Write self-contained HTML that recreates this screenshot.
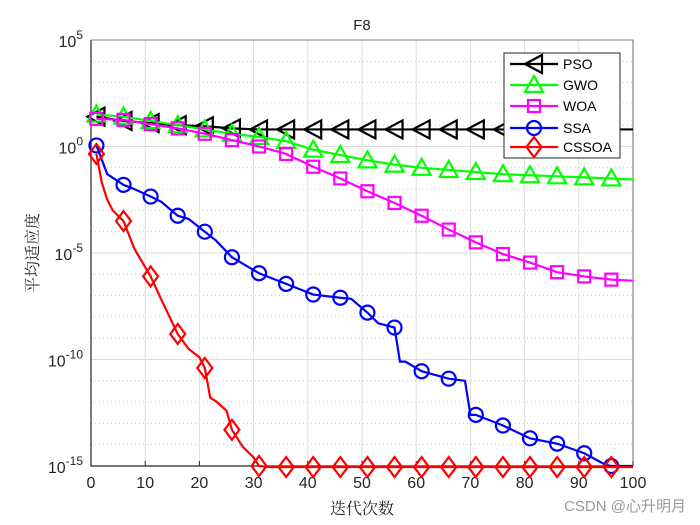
<!DOCTYPE html>
<html><head><meta charset="utf-8"><style>
body{margin:0;background:#fff}
svg{display:block;font-family:"Liberation Sans","Noto Sans CJK SC",sans-serif}
</style></head><body>
<svg id="c" width="700" height="525">
</svg>
<script>
const iters={
PSO:[1,6,11,16,21,26,31,36,41,46,51,56,61,66,71,76,81,86,91,96,100],
GWO:[1,6,11,16,21,26,31,36,41,46,51,56,61,66,71,76,81,86,91,96,100],
WOA:[1,6,11,16,21,26,31,36,41,46,51,56,61,66,71,76,81,86,91,96,100],
SSA:[1,3,6,8,11,13,16,18,21,23,26,28,31,36,41,46,48,51,53,56,57,58,61,66,69,70,71,76,81,86,91,95,96,100],
CSSOA:[1,2,3,4,6,8,11,13,16,18,20,21,22,23,25,26,28,30,31,33,36,41,46,51,56,61,66,71,76,81,86,91,96,100]};
const pso=[1.4,1.2,1.1,1.0,0.95,0.85,0.8,0.8,0.8,0.8,0.8,0.8,0.8,0.8,0.8,0.8,0.8,0.8,0.8,0.8,0.8];
const gwo=[1.5,1.4,1.2,1.0,0.8,0.6,0.45,0.25,-0.15,-0.4,-0.65,-0.85,-1.0,-1.1,-1.2,-1.3,-1.35,-1.4,-1.45,-1.5,-1.55];
const woa=[1.3,1.25,1.05,0.85,0.6,0.3,0,-0.35,-0.95,-1.5,-2.1,-2.65,-3.25,-3.9,-4.5,-5.05,-5.45,-5.9,-6.1,-6.25,-6.3];
const ssa=[0.05,-1.3,-1.8,-2.0,-2.35,-2.6,-3.25,-3.4,-4.0,-4.4,-5.2,-5.5,-5.95,-6.45,-6.95,-7.1,-7.15,-7.8,-8.3,-8.5,-10.1,-10.1,-10.55,-10.9,-11.0,-12.6,-12.6,-13.1,-13.7,-13.95,-14.4,-14.95,-15.0,-15.0];
const cssoa=[-0.35,-1.7,-2.5,-3.0,-3.5,-4.8,-6.1,-7.2,-8.8,-9.5,-9.9,-10.4,-11.8,-11.95,-12.4,-13.3,-14.1,-14.6,-15.0,-15.05,-15.05,-15.05,-15.05,-15.05,-15.05,-15.05,-15.05,-15.05,-15.05,-15.05,-15.05,-15.05,-15.05,-15.05];
const xTicks=[0,10,20,30,40,50,60,70,80,90,100];
const yTicks=[5,0,-5,-10,-15];
const names=["PSO","GWO","WOA","SSA","CSSOA"];
const series=[pso,gwo,woa,ssa,cssoa];
const colors=["#000","#00ff00","#ff00ff","#0000ff","#ff0000"];
const L=91,R=633,T=40,B=466;
const X=v=>L+(v/100)*(R-L), Y=v=>T+(5-v)/20*(B-T);
const svg=document.getElementById('c'),NS="http://www.w3.org/2000/svg";
function el(t,a,p){const e=document.createElementNS(NS,t);for(const k in a)e.setAttribute(k,a[k]);(p||svg).appendChild(e);return e;}
el('rect',{x:L,y:T,width:R-L,height:B-T,fill:'#fff'});
for(let d=-15;d<=5;d++){if(d%5){const g=el('line',{x1:L,x2:R,y1:Y(d),y2:Y(d),stroke:'#bbb','stroke-width':0.8,'stroke-dasharray':'1,3'});
}}
yTicks.forEach(v=>{const g=el('line',{x1:L,x2:R,y1:Y(v),y2:Y(v),stroke:'#ddd'});

const t=el('text',{x:L-8,y:Y(v)+7,'text-anchor':'end','font-size':16,fill:'#262626'});
t.innerHTML='10<tspan dy="-8" font-size="12">'+v+'</tspan>';
});
xTicks.forEach(v=>{const g=el('line',{x1:X(v),x2:X(v),y1:T,y2:B,stroke:'#ddd'});

const t=el('text',{x:X(v),y:B+22,'text-anchor':'middle','font-size':16,fill:'#262626'});t.textContent=v;

el('line',{x1:X(v),x2:X(v),y1:B,y2:B-5,stroke:'#262626'});});
const ax=el('path',{d:`M${L},${T}V${B}H${R}`,fill:'none',stroke:'#262626','stroke-width':1.2});

el('path',{d:`M${L},${T}H${R}V${B}`,fill:'none',stroke:'#262626','stroke-width':0.6});
function marker(i,cx,cy,g){const c=colors[i],a={fill:'none',stroke:c,'stroke-width':2.2};let m;
if(i==0)m=el('path',Object.assign({d:`M${cx-9},${cy}L${cx+8},${cy-9}V${cy+9}Z`},a),g);
else if(i==1)m=el('path',Object.assign({d:`M${cx},${cy-9}L${cx+9},${cy+7}H${cx-9}Z`},a),g);
else if(i==2)m=el('rect',Object.assign({x:cx-6,y:cy-6,width:12,height:12},a),g);
else if(i==3)m=el('circle',Object.assign({cx,cy,r:7},a),g);
else m=el('path',Object.assign({d:`M${cx},${cy-10}L${cx+7.5},${cy}L${cx},${cy+10}L${cx-7.5},${cy}Z`},a),g);
}
series.forEach((s,i)=>{const g=el('g',{});

const it=iters[names[i]];
el('polyline',{points:s.map((v,j)=>X(it[j])+','+Y(v)).join(' '),fill:'none',stroke:colors[i],'stroke-width':2.2},g);
s.forEach((v,j)=>{if(it[j]%5==1)marker(i,X(it[j]),Y(v),g);});});
const lg=el('g',{});
el('rect',{x:504,y:53,width:116,height:105,fill:'#fff',stroke:'#262626'},lg);
const ry=[64,85,106,128,147];
names.forEach((n,i)=>{const e=el('g',{},lg);

el('line',{x1:510,x2:558,y1:ry[i],y2:ry[i],stroke:colors[i],'stroke-width':2.2},e);
marker(i,534,ry[i],e);
const t=el('text',{x:563,y:ry[i]+5,'font-size':14,fill:'#000'},e);t.textContent=n;});
const ti=el('text',{x:362,y:30,'text-anchor':'middle','font-size':15,fill:'#262626'});ti.textContent='F8';

const xl=el('text',{x:362,y:514,'text-anchor':'middle','font-size':16,fill:'#262626','font-family':'"Noto Serif CJK SC",serif'});xl.textContent='迭代次数';

const yl=el('text',{x:0,y:0,'text-anchor':'middle','font-size':16,fill:'#262626','font-family':'"Noto Serif CJK SC",serif',transform:'translate(38,253) rotate(-90)'});yl.textContent='平均适应度';

const wm=el('text',{x:686,y:511,'text-anchor':'end','font-size':15,fill:'#999'});wm.textContent='CSDN @心升明月';

</script>
</body></html>
